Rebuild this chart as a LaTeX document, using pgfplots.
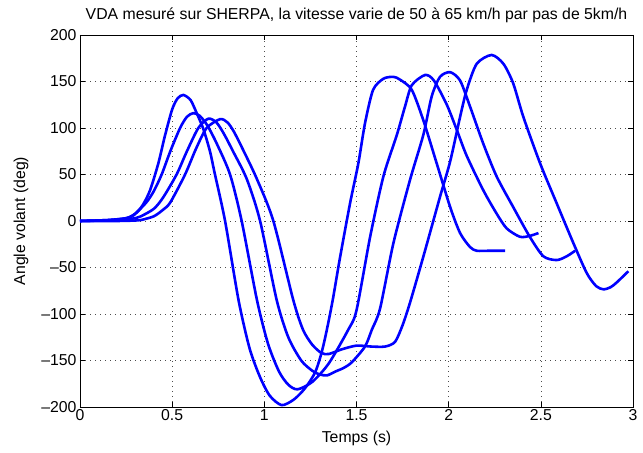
\documentclass[border=0pt]{standalone}
\usepackage{pgfplots}
\pgfplotsset{compat=1.18}
\usepackage{fontspec}
\setmainfont{Liberation Sans}

\pgfplotsset{vda/.style={blue, line width=2.6pt, no marks, smooth, tension=0.45}}

\begin{document}
\begin{tikzpicture}
\begin{axis}[
    width=553pt, height=372pt, scale only axis,
    xmin=0, xmax=3, ymin=-200, ymax=200,
    xtick={0,0.5,1,1.5,2,2.5,3},
    xticklabels={0,0.5,1,1.5,2,2.5,3},
    ytick={-200,-150,-100,-50,0,50,100,150,200},
    yticklabels={–200,–150,–100,–50,0,50,100,150,200},
    tick align=inside, xtick pos=both, ytick pos=both,
    major tick length=5pt,
    tick style={black, line width=0.6pt},
    axis line style={black, line width=0.9pt},
    grid=major,
    grid style={black!70, line width=0.6pt, dash pattern=on 0.8pt off 4.2pt},
    font=\fontsize{15.8}{18}\selectfont,
    title={VDA mesuré sur SHERPA, la vitesse varie de 50 à 65 km/h par pas de 5km/h},
    title style={yshift=3pt},
    xlabel={Temps (s)},
    ylabel={Angle volant (deg)},
    xlabel style={yshift=-3pt},
    ylabel style={yshift=6pt},
    xticklabel style={yshift=1pt},
]
% 65 km/h
\addplot[vda] coordinates {
(0,0) (0.15,1) (0.25,3) (0.30,8) (0.34,17) (0.38,33) (0.425,62) (0.46,91)
(0.50,120) (0.53,132) (0.561,135.5) (0.60,130) (0.633,116) (0.669,99) (0.705,75)
(0.73,52) (0.787,0) (0.86,-85) (0.92,-137) (0.977,-168) (1.03,-188) (1.094,-198)
(1.16,-192) (1.22,-180) (1.275,-163) (1.31,-142) (1.338,-118) (1.371,-85)
(1.41,-40) (1.465,19) (1.51,62) (1.546,105) (1.59,141) (1.646,153) (1.70,155)
(1.736,152) (1.80,141) (1.863,108) (1.935,62) (2.008,15) (2.062,-13) (2.116,-28)
(2.152,-32) (2.22,-32) (2.306,-32)
};
% 60 km/h
\addplot[vda] coordinates {
(0,0) (0.15,1) (0.25,3) (0.29,6) (0.36,20) (0.40,32) (0.443,50) (0.49,75)
(0.543,100) (0.58,112) (0.615,116) (0.65,113) (0.69,103) (0.74,84) (0.814,50)
(0.877,0) (0.96,-85) (1.02,-132) (1.08,-162) (1.13,-176) (1.18,-181) (1.26,-173)
(1.35,-153) (1.455,-117) (1.50,-96) (1.574,-17) (1.646,48) (1.718,92) (1.763,123)
(1.80,146) (1.872,157) (1.92,151) (1.99,125) (2.044,98) (2.098,70) (2.188,33)
(2.26,8) (2.315,-8) (2.387,-17) (2.44,-16) (2.487,-13)
};
% 55 km/h
\addplot[vda] coordinates {
(0,0) (0.20,1) (0.30,3) (0.33,5) (0.40,13) (0.45,25) (0.524,50) (0.58,75)
(0.642,100) (0.696,110) (0.74,106) (0.78,94) (0.83,75) (0.905,45) (0.977,0)
(1.067,-85) (1.13,-125) (1.20,-150) (1.26,-161) (1.30,-165) (1.34,-166)
(1.384,-162) (1.43,-158) (1.474,-152) (1.546,-135) (1.583,-117) (1.628,-94)
(1.70,-24) (1.79,44) (1.863,93) (1.908,134) (1.953,155) (2.008,160) (2.062,151)
(2.116,123) (2.188,83) (2.26,48) (2.35,15) (2.44,-17) (2.514,-38) (2.586,-42)
(2.64,-38) (2.686,-32)
};
% 50 km/h
\addplot[vda] coordinates {
(0,0) (0.20,0) (0.30,0.5) (0.33,1) (0.40,5) (0.45,12) (0.49,20) (0.57,50)
(0.63,78) (0.687,100) (0.76,109.5) (0.80,106) (0.835,96) (0.886,76) (0.96,45)
(1.049,0) (1.157,-85) (1.21,-117) (1.26,-133) (1.31,-142) (1.35,-143) (1.42,-138)
(1.50,-134) (1.58,-135) (1.655,-135) (1.709,-130) (1.75,-112) (1.79,-88)
(1.863,-38) (1.953,26) (2.008,64) (2.062,112) (2.098,141) (2.152,169) (2.233,178.5)
(2.297,169) (2.35,148) (2.405,112) (2.496,62) (2.586,19) (2.677,-24) (2.749,-56)
(2.80,-70) (2.84,-73.5) (2.88,-71) (2.912,-66) (2.975,-54)
};
\end{axis}
\pgfresetboundingbox
\path ([shift={(-80pt,-46pt)}]current axis.south west) rectangle ([shift={(10pt,35pt)}]current axis.north east);
\end{tikzpicture}
\end{document}
